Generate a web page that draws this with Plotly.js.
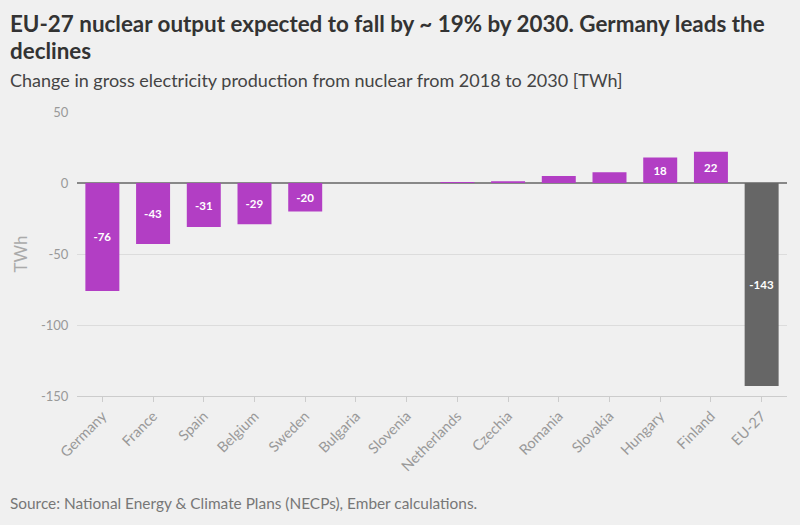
<!DOCTYPE html>
<html>
<head>
<meta charset="utf-8">
<script src="https://cdn.plot.ly/plotly-3.0.1.min.js"></script>
<style>
  html, body { margin: 0; padding: 0; background: #f0f0f0; }
  #chart { width: 800px; height: 525px; }
</style>
</head>
<body>
<div id="chart"></div>
<script>
// Change in gross nuclear electricity production, 2018 -> 2030 (TWh)
const countries = ["Germany", "France", "Spain", "Belgium", "Sweden", "Bulgaria", "Slovenia",
  "Netherlands", "Czechia", "Romania", "Slovakia", "Hungary", "Finland", "EU-27"];
const changeTWh = [-76, -43, -31, -29, -20, 0, 0, 0.7, 1.2, 5, 7.5, 18, 22, -143];
const countryColor = "#b23ec4";
const totalColor = "#666666";

const barColors = countries.map(c => c === "EU-27" ? totalColor : countryColor);
// only bars large enough to hold a label carry one
const barText = changeTWh.map(v => Math.abs(v) >= 10 ? String(Math.round(v)) : "");

const font = "Lato, 'Open Sans', sans-serif";
const textX = -0.097;

function note(text, y, size, color) {
  return {
    text: text, xref: "paper", yref: "paper", x: textX, y: y,
    xanchor: "left", yanchor: "middle", showarrow: false,
    font: { family: font, size: size, color: color }
  };
}

const trace = {
  type: "bar",
  x: countries,
  y: changeTWh,
  marker: { color: barColors },
  text: barText,
  textposition: "inside",
  insidetextanchor: "middle",
  textangle: 0,
  textfont: { family: font, size: 11.5, color: "#ffffff", weight: 700 },
  hoverinfo: "x+y",
  cliponaxis: false
};

const layout = {
  width: 800,
  height: 525,
  paper_bgcolor: "#f0f0f0",
  plot_bgcolor: "#f0f0f0",
  margin: { l: 77, r: 13, t: 112, b: 129 },
  bargap: 0.33,
  showlegend: false,
  font: { family: font, color: "#999999" },
  annotations: [
    note("<b>EU-27 nuclear output expected to fall by ~ 19% by 2030. Germany leads the</b>", 1.313, 22.4, "#333333"),
    note("<b>declines</b>", 1.218, 22.4, "#333333"),
    note("Change in gross electricity production from nuclear from 2018 to 2030 [TWh]", 1.113, 18, "#444444"),
    note("Source: National Energy &amp; Climate Plans (NECPs), Ember calculations.", -0.377, 15.4, "#777777")
  ],
  xaxis: {
    type: "category",
    tickangle: -45,
    tickfont: { family: font, size: 14.5, color: "#999999" },
    showline: true, linecolor: "#cccccc", linewidth: 1,
    ticks: "outside", ticklen: 5, tickcolor: "#cccccc",
    showgrid: false,
    zeroline: false
  },
  yaxis: {
    range: [-150, 50],
    tickvals: [-150, -100, -50, 0, 50],
    ticktext: ["-150", "-100", "-50", "0", "50"],
    tickfont: { family: font, size: 13, color: "#999999" },
    showgrid: true, gridcolor: "#dcdcdc", gridwidth: 1,
    zeroline: true, zerolinecolor: "#888888", zerolinewidth: 1.5,
    ticks: "outside", ticklen: 5, tickcolor: "rgba(0,0,0,0)",
    title: { text: "TWh", standoff: 8, font: { family: font, size: 17, color: "#aaaaaa" } }
  }
};

Plotly.newPlot("chart", [trace], layout, { displayModeBar: false, staticPlot: true });
</script>
</body>
</html>
